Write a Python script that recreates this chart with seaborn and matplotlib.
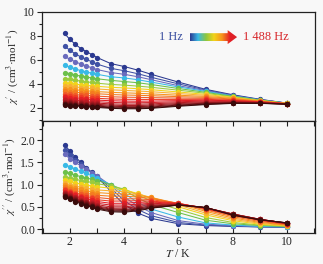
import numpy as np
import pandas as pd
import seaborn as sns
import matplotlib.pyplot as plt
from matplotlib.ticker import MultipleLocator
from matplotlib.colors import LinearSegmentedColormap
from matplotlib.patches import Polygon

# -------------------------------
# Data
# -------------------------------
temps = [1.8, 2.0, 2.2, 2.4, 2.6, 2.8, 3.0, 3.5, 4.0, 4.5, 5, 6, 7, 8, 9, 10]

# chi' (top panel), one row per frequency, 1 Hz -> 1488 Hz
chi_real = [
    [8.2, 7.7, 7.3, 6.95, 6.7, 6.45, 6.2, 5.7, 5.45, 5.15, 4.8, 4.15, 3.55, 3.1, 2.72, 2.4],
    [7.15, 6.8, 6.5, 6.25, 6.05, 5.85, 5.65, 5.3, 5.1, 4.85, 4.55, 4.0, 3.5, 3.05, 2.7, 2.4],
    [6.3, 6.05, 5.85, 5.65, 5.5, 5.35, 5.2, 4.95, 4.8, 4.6, 4.35, 3.85, 3.45, 3.02, 2.68, 2.4],
    [5.55, 5.4, 5.25, 5.1, 5.0, 4.9, 4.8, 4.6, 4.5, 4.35, 4.15, 3.75, 3.38, 3.0, 2.66, 2.39],
    [4.95, 4.85, 4.75, 4.65, 4.58, 4.5, 4.43, 4.3, 4.2, 4.1, 3.95, 3.62, 3.3, 2.97, 2.65, 2.39],
    [4.45, 4.38, 4.3, 4.24, 4.18, 4.12, 4.06, 3.96, 3.9, 3.82, 3.72, 3.48, 3.22, 2.93, 2.63, 2.38],
    [4.1, 4.04, 3.98, 3.93, 3.88, 3.84, 3.8, 3.72, 3.67, 3.6, 3.52, 3.33, 3.13, 2.88, 2.61, 2.38],
    [3.85, 3.8, 3.75, 3.7, 3.66, 3.62, 3.58, 3.51, 3.46, 3.41, 3.35, 3.2, 3.05, 2.84, 2.59, 2.37],
    [3.6, 3.55, 3.51, 3.47, 3.43, 3.4, 3.36, 3.3, 3.26, 3.22, 3.17, 3.06, 2.96, 2.79, 2.57, 2.37],
    [3.4, 3.35, 3.31, 3.27, 3.24, 3.21, 3.18, 3.12, 3.08, 3.05, 3.02, 2.94, 2.88, 2.74, 2.55, 2.36],
    [3.2, 3.15, 3.11, 3.07, 3.04, 3.01, 2.98, 2.93, 2.9, 2.88, 2.86, 2.82, 2.8, 2.69, 2.53, 2.36],
    [3.02, 2.97, 2.93, 2.89, 2.86, 2.83, 2.8, 2.75, 2.72, 2.71, 2.71, 2.71, 2.72, 2.64, 2.51, 2.35],
    [2.87, 2.82, 2.78, 2.74, 2.71, 2.68, 2.65, 2.6, 2.57, 2.56, 2.57, 2.61, 2.64, 2.6, 2.49, 2.35],
    [2.74, 2.69, 2.65, 2.61, 2.58, 2.55, 2.52, 2.46, 2.43, 2.43, 2.45, 2.52, 2.57, 2.56, 2.47, 2.34],
    [2.62, 2.57, 2.53, 2.49, 2.46, 2.43, 2.4, 2.34, 2.31, 2.31, 2.34, 2.44, 2.51, 2.52, 2.45, 2.34],
    [2.52, 2.47, 2.43, 2.39, 2.36, 2.33, 2.3, 2.24, 2.2, 2.2, 2.24, 2.37, 2.45, 2.48, 2.43, 2.33],
    [2.44, 2.39, 2.35, 2.31, 2.28, 2.25, 2.22, 2.15, 2.11, 2.11, 2.15, 2.3, 2.4, 2.45, 2.41, 2.33],
    [2.37, 2.32, 2.28, 2.24, 2.21, 2.18, 2.15, 2.08, 2.04, 2.04, 2.08, 2.24, 2.36, 2.42, 2.4, 2.32],
    [2.3, 2.26, 2.22, 2.18, 2.15, 2.12, 2.09, 2.02, 1.98, 1.98, 2.02, 2.19, 2.32, 2.4, 2.39, 2.32],
    [2.24, 2.2, 2.17, 2.13, 2.1, 2.07, 2.04, 1.97, 1.93, 1.93, 1.97, 2.14, 2.28, 2.38, 2.38, 2.31],
]

# chi'' (bottom panel)
chi_imag = [
    [1.9, 1.75, 1.62, 1.5, 1.38, 1.28, 1.18, 0.85, 0.55, 0.36, 0.24, 0.12, 0.08, 0.06, 0.05, 0.04],
    [1.78, 1.66, 1.56, 1.46, 1.36, 1.27, 1.19, 0.92, 0.64, 0.44, 0.3, 0.15, 0.09, 0.07, 0.05, 0.04],
    [1.68, 1.58, 1.5, 1.42, 1.34, 1.27, 1.2, 0.98, 0.72, 0.52, 0.37, 0.19, 0.11, 0.08, 0.06, 0.05],
    [1.45, 1.4, 1.35, 1.3, 1.25, 1.2, 1.15, 1.0, 0.8, 0.6, 0.45, 0.27, 0.14, 0.09, 0.06, 0.05],
    [1.28, 1.25, 1.21, 1.18, 1.15, 1.12, 1.09, 1.0, 0.87, 0.7, 0.55, 0.37, 0.2, 0.12, 0.08, 0.06],
    [1.18, 1.15, 1.12, 1.09, 1.07, 1.05, 1.02, 0.97, 0.9, 0.77, 0.63, 0.44, 0.26, 0.15, 0.09, 0.07],
    [1.1, 1.07, 1.04, 1.01, 0.99, 0.97, 0.95, 0.92, 0.88, 0.8, 0.69, 0.5, 0.32, 0.19, 0.11, 0.07],
    [1.03, 1.0, 0.97, 0.94, 0.92, 0.9, 0.88, 0.86, 0.84, 0.79, 0.71, 0.54, 0.36, 0.22, 0.13, 0.08],
    [0.98, 0.95, 0.92, 0.89, 0.86, 0.84, 0.82, 0.8, 0.79, 0.76, 0.71, 0.57, 0.4, 0.25, 0.15, 0.09],
    [0.94, 0.9, 0.87, 0.84, 0.81, 0.78, 0.76, 0.74, 0.74, 0.72, 0.69, 0.58, 0.43, 0.28, 0.17, 0.1],
    [0.9, 0.86, 0.82, 0.79, 0.76, 0.73, 0.71, 0.68, 0.68, 0.68, 0.66, 0.58, 0.45, 0.3, 0.19, 0.11],
    [0.87, 0.83, 0.79, 0.75, 0.72, 0.69, 0.66, 0.63, 0.63, 0.64, 0.63, 0.58, 0.46, 0.32, 0.2, 0.12],
    [0.84, 0.8, 0.76, 0.72, 0.68, 0.65, 0.62, 0.58, 0.58, 0.6, 0.61, 0.57, 0.47, 0.33, 0.21, 0.12],
    [0.82, 0.78, 0.73, 0.69, 0.65, 0.61, 0.58, 0.54, 0.54, 0.56, 0.58, 0.56, 0.48, 0.34, 0.22, 0.13],
    [0.8, 0.76, 0.71, 0.66, 0.62, 0.58, 0.55, 0.5, 0.5, 0.53, 0.56, 0.56, 0.48, 0.34, 0.22, 0.13],
    [0.78, 0.74, 0.69, 0.64, 0.6, 0.56, 0.52, 0.47, 0.47, 0.5, 0.54, 0.55, 0.48, 0.34, 0.22, 0.13],
    [0.77, 0.72, 0.67, 0.62, 0.58, 0.54, 0.5, 0.45, 0.44, 0.47, 0.52, 0.55, 0.48, 0.33, 0.22, 0.13],
    [0.75, 0.7, 0.65, 0.6, 0.56, 0.52, 0.48, 0.43, 0.42, 0.45, 0.5, 0.54, 0.48, 0.33, 0.21, 0.14],
    [0.74, 0.69, 0.64, 0.59, 0.55, 0.51, 0.47, 0.41, 0.4, 0.43, 0.48, 0.54, 0.48, 0.32, 0.21, 0.14],
    [0.72, 0.67, 0.62, 0.57, 0.53, 0.49, 0.45, 0.39, 0.38, 0.41, 0.47, 0.54, 0.49, 0.31, 0.21, 0.14],
]

curve_colors = [
    '#2b3990', '#3f51a5', '#6a6bbd', '#39b9e6', '#6cc04a',
    '#9bcb3c', '#f2d31a', '#f8b133', '#f7941d', '#f47c20',
    '#f05a28', '#ed3a24', '#e41e26', '#d01f27', '#bb1c24',
    '#a3191f', '#8a151b', '#6e1216', '#530e10', '#3a0b0b',
]

# -------------------------------
# Long-format table for seaborn
# -------------------------------
rows = []
for i in range(len(chi_real)):
    for j, t in enumerate(temps):
        rows.append({'curve': f'c{i:02d}', 'T': t,
                     'chi1': chi_real[i][j], 'chi2': chi_imag[i][j]})
df = pd.DataFrame(rows)
hue_order = [f'c{i:02d}' for i in range(len(chi_real))]

# -------------------------------
# Style
# -------------------------------
sns.set_theme(style='ticks')
plt.rcParams['font.family'] = ['Liberation Serif', 'DejaVu Serif']
plt.rcParams['mathtext.fontset'] = 'stix'
bg = '#f8f8f8'

fig = plt.figure(figsize=(3.23, 2.64), dpi=100, facecolor=bg)
ax1 = fig.add_axes([0.130, 0.542, 0.845, 0.413], facecolor=bg)
ax2 = fig.add_axes([0.130, 0.117, 0.845, 0.425], facecolor=bg)

line_kw = dict(x='T', hue='curve', hue_order=hue_order, palette=curve_colors,
               marker='o', markersize=3.8, markeredgewidth=0, linewidth=0.75,
               legend=False, sort=False, estimator=None)
sns.lineplot(data=df, y='chi1', ax=ax1, **line_kw)
sns.lineplot(data=df, y='chi2', ax=ax2, **line_kw)

for ax in (ax1, ax2):
    ax.set_xlim(0.97, 11.03)
    for s in ax.spines.values():
        s.set_visible(True)
        s.set_color('#222222')
        s.set_linewidth(0.9)
    ax.tick_params(axis='y', which='both', direction='out', left=True, right=False,
                   labelsize=8.5, color='#222222', width=0.8, pad=1.5)
    ax.tick_params(axis='y', which='major', length=3.5)
    ax.tick_params(axis='y', which='minor', length=2)

ax1.set_ylim(0.92, 10)
ax1.yaxis.set_major_locator(MultipleLocator(2))
ax1.yaxis.set_minor_locator(MultipleLocator(1))
ax1.tick_params(axis='x', which='both', bottom=False, top=False, labelbottom=False)
ax1.set_xlabel('')
ax1.set_ylabel(r"$\chi'$ / (cm$^3$·mol$^{-1}$)", fontsize=8, labelpad=2)

ax2.set_ylim(-0.09, 2.43)
ax2.yaxis.set_major_locator(MultipleLocator(0.5))
ax2.yaxis.set_minor_locator(MultipleLocator(0.25))
ax2.yaxis.set_major_formatter(plt.FormatStrFormatter('%.1f'))
ax2.xaxis.set_major_locator(MultipleLocator(2))
ax2.xaxis.set_minor_locator(MultipleLocator(1))
ax2.tick_params(axis='x', which='both', direction='in', top=True, bottom=True,
                length=3.5, width=0.8, color='#222222', labelsize=8.5, pad=2)
ax2.set_xlabel(r'$T$ / K', fontsize=8.5, labelpad=0)
ax2.set_ylabel(r"$\chi''$ / (cm$^3$·mol$^{-1}$)", fontsize=8, labelpad=2)

# -------------------------------
# Frequency "legend": gradient arrow
# -------------------------------
fig.text(0.567, 0.860, '1 Hz', color='#3a4ea0', fontsize=9, ha='right', va='center')
fig.text(0.752, 0.860, '1 488 Hz', color='#d7262a', fontsize=9, ha='left', va='center')

arr_ax = fig.add_axes([0.588, 0.833, 0.146, 0.053])
arr_ax.set_axis_off()
arr_ax.set_xlim(0, 1)
arr_ax.set_ylim(0, 1)
grad_cmap = LinearSegmentedColormap.from_list(
    'freq', ['#2b3990', '#39b9e6', '#8cc63f', '#f2d31a', '#f7941d', '#e41e26', '#d7262a'])
grad = np.linspace(0, 1, 256).reshape(1, -1)
im = arr_ax.imshow(grad, cmap=grad_cmap, extent=[0, 1, 0, 1], aspect='auto')
arrow_shape = Polygon([[0, 0.22], [0.8, 0.22], [0.8, 0.0], [1.0, 0.5],
                       [0.8, 1.0], [0.8, 0.78], [0, 0.78]],
                      closed=True, transform=arr_ax.transData, facecolor='none',
                      edgecolor='none')
arr_ax.add_patch(arrow_shape)
im.set_clip_path(arrow_shape)

plt.savefig('out.png', dpi=100, facecolor=bg)
plt.close()
